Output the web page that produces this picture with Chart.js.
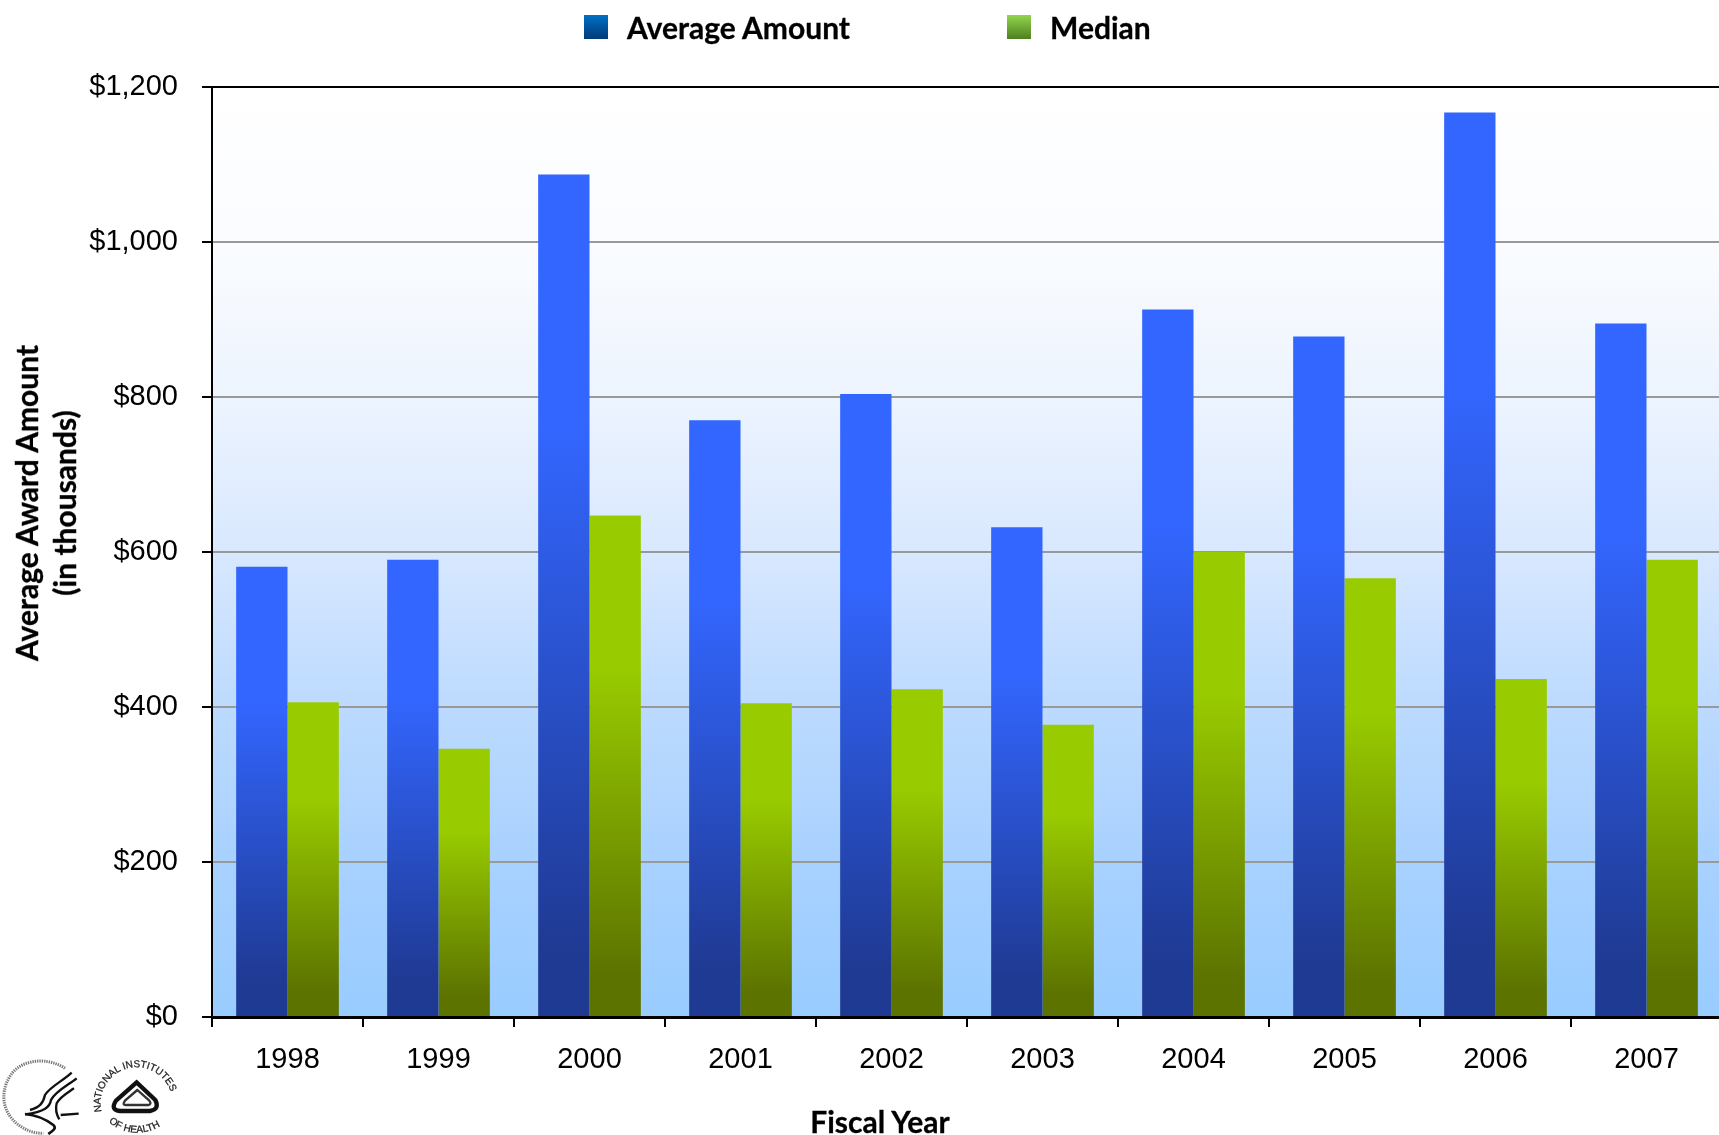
<!DOCTYPE html>
<html>
<head>
<meta charset="utf-8">
<title>Average Award Amount</title>
<script src="https://cdn.jsdelivr.net/npm/chart.js@4"></script>
<style>
    html, body { margin: 0; padding: 0; background: #fff; overflow: hidden; width: 1719px; height: 1135px; }
    #wrap { position: relative; width: 1719px; height: 1135px; overflow: hidden; }
    canvas { position: absolute; left: 0; top: 0; }
    .label { position: absolute; font: bold 30px Lato, sans-serif; color: #000; white-space: nowrap; line-height: 1; -webkit-text-stroke: 0.3px #000; }
    .swatch { position: absolute; top: 15px; width: 24px; height: 24px; }
    #yTitle { left: 45px; top: 503px; line-height: 38px; text-align: center; transform: translate(-50%, -50%) rotate(-90deg); }
    #xTitle { left: 880px; top: 1121px; transform: translate(-50%, -50%); }
    #logos { position: absolute; left: 0; top: 1050px; filter: blur(0.7px); }
</style>
</head>
<body>
<div id="wrap">
    <canvas id="awardChart" width="1724" height="1135"></canvas>
    <div id="legend"></div>
    <div class="label" id="yTitle">Average Award Amount<br>(in thousands)</div>
    <div class="label" id="xTitle">Fiscal Year</div>
    <svg id="logos" width="190" height="85" viewBox="0 0 570 255" fill="none" stroke="#111">
        <!-- HHS -->
        <path d="M195 55 C150 25 85 25 45 60 C5 100 0 165 35 205 C60 235 95 250 130 250" stroke="#777" stroke-width="9" stroke-dasharray="4 3"/>
        <path d="M215 68 C190 92 150 110 135 135 C130 158 120 172 90 180" stroke-width="7"/>
        <path d="M230 85 C205 105 165 125 153 150 C150 170 135 185 75 193" stroke-width="7"/>
        <path d="M222 115 C200 130 180 140 170 160 C165 180 170 195 178 208" stroke-width="7"/>
        <path d="M75 192 C110 195 140 210 160 225 C172 235 155 245 145 252" stroke-width="8"/>
        <path d="M182 195 L236 191" stroke-width="7"/>
        <!-- NIH -->
        <defs>
            <path id="nihTop" d="M305 185 A108 108 0 1 1 515 185"/>
            <path id="nihBottom" d="M320 210 A130 130 0 0 0 504 210"/>
        </defs>
        <text font-family="Liberation Sans, sans-serif" font-size="30" fill="#222" stroke="#222" stroke-width="0.8"><textPath href="#nihTop">NATIONAL INSTITUTES</textPath></text>
        <text font-family="Liberation Sans, sans-serif" font-size="30" fill="#222" stroke="#222" stroke-width="0.8"><textPath href="#nihBottom" startOffset="4%">OF HEALTH</textPath></text>
        <path d="M410 97 L348 152 Q330 180 360 183 L450 183 Q480 178 466 150 Z" stroke-width="13" fill="#fff"/>
        <path d="M412 120 L375 152 Q365 165 378 165 L445 165 Q456 162 448 152 Z" stroke-width="7" stroke="#333" fill="#fff"/>
    </svg>
</div>
<script>
const categories = ['1998', '1999', '2000', '2001', '2002', '2003', '2004', '2005', '2006', '2007'];
const averageAmount = [581, 590, 1087, 770, 804, 632, 913, 878, 1167, 895];
const medianAmount = [406, 346, 647, 405, 423, 377, 600, 566, 436, 590];
const yTicks = [0, 200, 400, 600, 800, 1000, 1200];

const legendSwatches = [
    { left: 584, textLeft: 627, css: 'linear-gradient(#0070c6, #003a78)' },
    { left: 1007, textLeft: 1050, css: 'linear-gradient(#92d64e, #4f7f1f)' }
];

// gradiente proprio de cada barra, do topo da barra ate o eixo
function barGradient(top, bottom) {
    return (context) => {
        const chart = context.chart;
        if (!chart.chartArea || context.raw === undefined) return top;
        const y = chart.scales.y.getPixelForValue(context.raw);
        const g = chart.ctx.createLinearGradient(0, y, 0, chart.chartArea.bottom);
        g.addColorStop(0, top);
        g.addColorStop(0.3, top);
        g.addColorStop(0.92, bottom);
        g.addColorStop(1, bottom);
        return g;
    };
}

// fundo da area do grafico
const plotBackground = {
    id: 'plotBackground',
    beforeDraw(chart) {
        const { ctx, chartArea: a } = chart;
        const g = ctx.createLinearGradient(0, a.top, 0, a.bottom);
        g.addColorStop(0, '#ffffff');
        g.addColorStop(0.167, '#fafcff');
        g.addColorStop(0.333, '#edf4fe');
        g.addColorStop(0.5, '#d8e8fe');
        g.addColorStop(0.667, '#bcdafe');
        g.addColorStop(0.833, '#a8d1ff');
        g.addColorStop(1, '#99ccff');
        ctx.save();
        ctx.fillStyle = g;
        ctx.fillRect(a.left, a.top, a.right - a.left, a.bottom - a.top);
        ctx.restore();
    }
};

const chart = new Chart(document.getElementById('awardChart'), {
    type: 'bar',
    plugins: [plotBackground],
    data: {
        labels: categories,
        datasets: [
            { label: 'Average Amount', data: averageAmount, backgroundColor: barGradient('#3366ff', '#1f3a93') },
            { label: 'Median', data: medianAmount, backgroundColor: barGradient('#99cc00', '#5c7300') }
        ]
    },
    options: {
        responsive: false,
        animation: false,
        categoryPercentage: 0.68,
        barPercentage: 1,
        layout: { padding: { top: 87, right: 2, left: 0, bottom: 0 } },
        plugins: { legend: { display: false }, tooltip: { enabled: false } },
        scales: {
            x: {
                afterFit(scale) { scale.height = 118; },
                border: { color: '#000', width: 3 },
                grid: { drawOnChartArea: false, tickLength: 10, tickColor: '#000', lineWidth: 2 },
                ticks: {
                    color: '#000',
                    padding: 16,
                    maxRotation: 0,
                    font: { family: 'Liberation Sans', size: 29 }
                }
            },
            y: {
                min: 0,
                max: 1200,
                afterFit(scale) { scale.width = 212; },
                afterBuildTicks(scale) { scale.ticks = yTicks.map(value => ({ value })); },
                border: { color: '#000', width: 2 },
                grid: {
                    tickLength: 10,
                    lineWidth: 2,
                    tickColor: '#000',
                    color: (ctx) => ctx.tick && ctx.tick.value === 1200 ? '#000' : '#999999'
                },
                ticks: {
                    color: '#000',
                    padding: 24,
                    font: { family: 'Liberation Sans', size: 29 },
                    callback: (value) => '$' + value.toLocaleString('en-US')
                }
            }
        }
    }
});

// legenda em HTML, a partir dos datasets
const legendDiv = document.getElementById('legend');
chart.data.datasets.forEach((dataset, i) => {
    const s = legendSwatches[i];
    legendDiv.innerHTML += `
        <div class="swatch" style="left:${s.left}px;background:${s.css}"></div>
        <div class="label" style="left:${s.textLeft}px;top:12px">${dataset.label}</div>`;
});
</script>
</body>
</html>
